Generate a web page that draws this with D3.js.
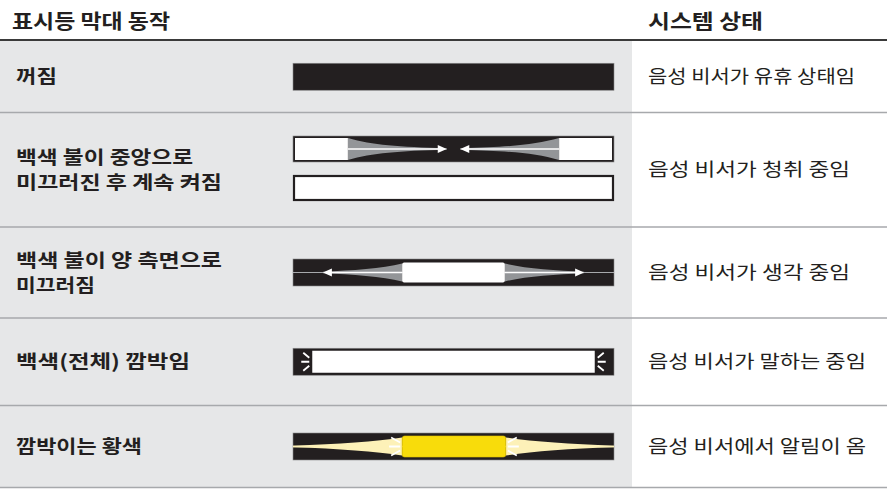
<!DOCTYPE html>
<html><head><meta charset="utf-8">
<script src="https://cdn.jsdelivr.net/npm/d3@7"></script>
<style>html,body{margin:0;padding:0;background:#fff;}svg{display:block;}</style>
</head><body>
<script>
const headers = ["표시등 막대 동작", "시스템 상태"];
const behaviors = [
  ["꺼짐"],
  ["백색 불이 중앙으로", "미끄러진 후 계속 켜짐"],
  ["백색 불이 양 측면으로", "미끄러짐"],
  ["백색(전체) 깜박임"],
  ["깜박이는 황색"]
];
const statuses = [
  "음성 비서가 유휴 상태임",
  "음성 비서가 청취 중임",
  "음성 비서가 생각 중임",
  "음성 비서가 말하는 중임",
  "음성 비서에서 알림이 옴"
];
const patterns = ["off", "slideIn", "slideOut", "pulseWhite", "pulseYellow"];

const W = 887, H = 489;
const FONT = "'Noto Sans CJK KR','Noto Sans',sans-serif";
const DARK = "#231f20", GRAYBG = "#e6e7e8", SEP = "#a7a9ac", TAPER = "#939598";
const rowEdges = [41, 112.5, 227, 318, 405.5, 487.5];

const svg = d3.select("body").append("svg").attr("width", W).attr("height", H);

// Background grey column
svg.append("rect").attr("x", 0).attr("y", rowEdges[0]).attr("width", 632)
  .attr("height", rowEdges[5] - rowEdges[0]).attr("fill", GRAYBG);

// header line
svg.append("line").attr("x1", 0).attr("x2", W).attr("y1", 40).attr("y2", 40)
  .attr("stroke", "#3a3a3a").attr("stroke-width", 2);

// headers
const hdrX = [12, 648], hdrW = [158, 115];
svg.selectAll("text.hdr").data(headers).join("text").attr("class", "hdr")
  .attr("x", (d, i) => hdrX[i]).attr("y", 29)
  .attr("font-family", FONT).attr("font-weight", 700).attr("font-size", 20)
  .attr("fill", DARK)
  .attr("textLength", (d, i) => hdrW[i]).attr("lengthAdjust", "spacingAndGlyphs")
  .text(d => d);

// separators
svg.selectAll("line.sep").data(rowEdges.slice(1)).join("line").attr("class", "sep")
  .attr("x1", 0).attr("x2", W).attr("y1", d => d).attr("y2", d => d)
  .attr("stroke", SEP).attr("stroke-width", 1.5);

const rowCenter = i => (rowEdges[i] + rowEdges[i + 1]) / 2;

// behaviour labels
const labelW = {"꺼짐": 41, "백색 불이 중앙으로": 177, "미끄러진 후 계속 켜짐": 206,
  "백색 불이 양 측면으로": 206, "미끄러짐": 79, "백색(전체) 깜박임": 174, "깜박이는 황색": 126};
behaviors.forEach((lines, i) => {
  const cy = rowCenter(i);
  const lh = 25;
  lines.forEach((t, j) => {
    const y = cy + (j - (lines.length - 1) / 2) * lh + 6.5;
    svg.append("text").attr("x", 16).attr("y", y)
      .attr("font-family", FONT).attr("font-weight", 700).attr("font-size", 18.5)
      .attr("fill", DARK)
      .attr("textLength", labelW[t]).attr("lengthAdjust", "spacingAndGlyphs")
      .text(t);
  });
});

// statuses
const statusW = [207, 202, 202, 218, 218];
svg.selectAll("text.st").data(statuses).join("text").attr("class", "st")
  .attr("x", 648).attr("y", (d, i) => rowCenter(i) + 6.5)
  .attr("font-family", FONT).attr("font-weight", 400).attr("font-size", 18.5)
  .attr("fill", DARK)
  .attr("textLength", (d, i) => statusW[i]).attr("lengthAdjust", "spacingAndGlyphs")
  .text(d => d);

// bar drawing
const x = d3.scaleLinear().domain([0, 100]).range([293, 614]);
const BH = 27;

function barBase(g, cy) {
  g.append("rect").attr("x", x(0)).attr("y", cy - BH / 2).attr("width", x(100) - x(0))
    .attr("height", BH).attr("fill", DARK).attr("stroke", "#8a8a8a").attr("stroke-width", 0.6);
}

function arrowHead(g, tipX, cy, dir, fill) {
  const L = 9, hw = 4;
  g.append("path").attr("d", `M${tipX},${cy} L${tipX - dir * L},${cy - hw} L${tipX - dir * L},${cy + hw} Z`)
    .attr("fill", fill);
}

function spark(g, ex, cy, dir, gap, len, spread) {
  // dir=-1 radiating to the left from edge ex
  const p = d3.path();
  const s = ex + dir * gap, e = ex + dir * (gap + len);
  p.moveTo(s, cy); p.lineTo(e, cy);
  p.moveTo(s, cy - spread * 0.45); p.lineTo(e + dir * -2, cy - spread);
  p.moveTo(s, cy + spread * 0.45); p.lineTo(e + dir * -2, cy + spread);
  g.append("path").attr("d", p.toString()).attr("stroke", "#fff").attr("stroke-width", 1.8)
    .attr("fill", "none").attr("stroke-linecap", "butt");
}

patterns.forEach((pt, i) => {
  const g = svg.append("g");
  if (pt === "off") {
    barBase(g, rowCenter(i));
  } else if (pt === "slideIn") {
    const cy1 = 149, cy2 = 188;
    // bar 1
    g.append("rect").attr("x", x(0)).attr("y", cy1 - 13).attr("width", x(100) - x(0)).attr("height", 26)
      .attr("fill", DARK).attr("stroke", "#8a8a8a").attr("stroke-width", 0.6);
    const wl = x(17.1), wr = x(82.9);
    const tl = x(47.9), tr = x(52.1);
    // tapers
    const taperL = `M${wl},${cy1 - 11} C${wl + 25},${cy1 - 4} ${wl + 50},${cy1 - 2} ${tl},${cy1 - 0.8} L${tl},${cy1 + 0.8} C${wl + 50},${cy1 + 2} ${wl + 25},${cy1 + 4} ${wl},${cy1 + 11} Z`;
    const taperR = `M${wr},${cy1 - 11} C${wr - 25},${cy1 - 4} ${wr - 50},${cy1 - 2} ${tr},${cy1 - 0.8} L${tr},${cy1 + 0.8} C${wr - 50},${cy1 + 2} ${wr - 25},${cy1 + 4} ${wr},${cy1 + 11} Z`;
    g.append("path").attr("d", taperL).attr("fill", TAPER);
    g.append("path").attr("d", taperR).attr("fill", TAPER);
    g.append("rect").attr("x", x(0) + 2).attr("y", cy1 - 11).attr("width", wl - x(0) - 2).attr("height", 22).attr("fill", "#fff");
    g.append("rect").attr("x", wr).attr("y", cy1 - 11).attr("width", x(100) - 2 - wr).attr("height", 22).attr("fill", "#fff");
    g.append("line").attr("x1", wl).attr("x2", tl - 6).attr("y1", cy1).attr("y2", cy1).attr("stroke", "#fff").attr("stroke-width", 1.6);
    g.append("line").attr("x1", wr).attr("x2", tr + 6).attr("y1", cy1).attr("y2", cy1).attr("stroke", "#fff").attr("stroke-width", 1.6);
    arrowHead(g, tl, cy1, 1, "#fff");
    arrowHead(g, tr, cy1, -1, "#fff");
    // bar 2
    g.append("rect").attr("x", x(0) + 1).attr("y", cy2 - 12).attr("width", x(100) - x(0) - 2).attr("height", 24)
      .attr("fill", "#fff").attr("stroke", DARK).attr("stroke-width", 2.2);
  } else if (pt === "slideOut") {
    const cy = rowCenter(i);
    barBase(g, cy);
    g.append("line").attr("x1", x(0)).attr("x2", x(100)).attr("y1", cy).attr("y2", cy)
      .attr("stroke", "#a7a9ac").attr("stroke-width", 1.2);
    const rl = x(34), rr = x(66);
    const tl = x(9.3), tr = x(90.7);
    const taperL = `M${rl},${cy - 9} C${rl - 20},${cy - 4} ${rl - 50},${cy - 2} ${tl},${cy - 0.8} L${tl},${cy + 0.8} C${rl - 50},${cy + 2} ${rl - 20},${cy + 4} ${rl},${cy + 9} Z`;
    const taperR = `M${rr},${cy - 9} C${rr + 20},${cy - 4} ${rr + 50},${cy - 2} ${tr},${cy - 0.8} L${tr},${cy + 0.8} C${rr + 50},${cy + 2} ${rr + 20},${cy + 4} ${rr},${cy + 9} Z`;
    g.append("path").attr("d", taperL).attr("fill", TAPER);
    g.append("path").attr("d", taperR).attr("fill", TAPER);
    g.append("line").attr("x1", rl).attr("x2", tl + 6).attr("y1", cy).attr("y2", cy).attr("stroke", "#fff").attr("stroke-width", 1.6);
    g.append("line").attr("x1", rr).attr("x2", tr - 6).attr("y1", cy).attr("y2", cy).attr("stroke", "#fff").attr("stroke-width", 1.6);
    arrowHead(g, tl, cy, -1, "#fff");
    arrowHead(g, tr, cy, 1, "#fff");
    g.append("rect").attr("x", rl).attr("y", cy - 10).attr("width", rr - rl).attr("height", 20)
      .attr("rx", 2).attr("fill", "#fff");
  } else if (pt === "pulseWhite") {
    const cy = rowCenter(i);
    barBase(g, cy);
    const il = x(6), ir = x(94);
    g.append("rect").attr("x", il).attr("y", cy - 11).attr("width", ir - il).attr("height", 22).attr("fill", "#fff");
    spark(g, il, cy, -1, 3, 8, 9);
    spark(g, ir, cy, 1, 3, 8, 9);
  } else if (pt === "pulseYellow") {
    const cy = rowCenter(i);
    barBase(g, cy);
    g.append("line").attr("x1", x(0)).attr("x2", x(100)).attr("y1", cy).attr("y2", cy)
      .attr("stroke", "#fdf1b8").attr("stroke-width", 1.4);
    const rl = x(34), rr = x(66.3);
    const taperL = `M${x(0)},${cy - 0.8} Q${rl - 40},${cy - 3} ${rl},${cy - 9} L${rl},${cy + 9} Q${rl - 40},${cy + 3} ${x(0)},${cy + 0.8} Z`;
    const taperR = `M${x(100)},${cy - 0.8} Q${rr + 40},${cy - 3} ${rr},${cy - 9} L${rr},${cy + 9} Q${rr + 40},${cy + 3} ${x(100)},${cy + 0.8} Z`;
    g.append("path").attr("d", taperL).attr("fill", "#fdf1b8");
    g.append("path").attr("d", taperR).attr("fill", "#fdf1b8");
    spark(g, rl, cy, -1, 2, 11, 9);
    spark(g, rr, cy, 1, 2, 11, 9);
    g.append("rect").attr("x", rl).attr("y", cy - 10.5).attr("width", rr - rl).attr("height", 21)
      .attr("rx", 2.5).attr("fill", "#f8dc0b").attr("stroke", "#e3c400").attr("stroke-width", 0.6);
  }
});
</script>
</body></html>
